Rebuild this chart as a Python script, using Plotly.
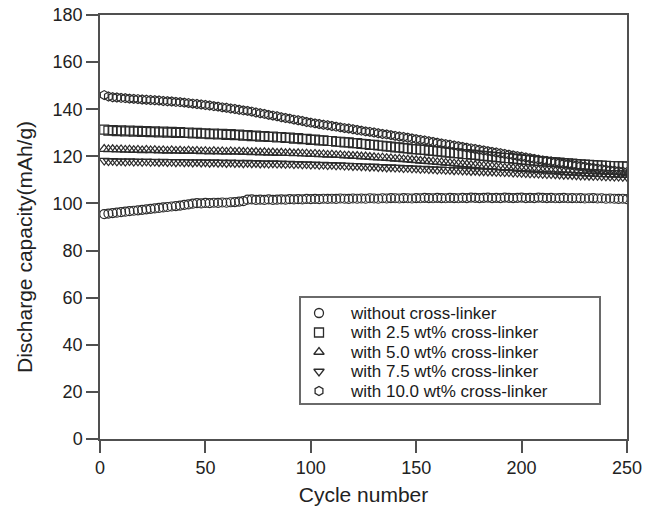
import plotly.graph_objects as go

cycles = list(range(2, 251, 2))  # 125 cycles: 2, 4, ..., 250

without_xl = [
    95.5, 95.7, 95.9, 96.1, 96.3, 96.5, 96.7, 96.9, 97.1, 97.3,
    97.5, 97.7, 97.9, 98.1, 98.3, 98.5, 98.7, 98.9, 99.1, 99.4,
    99.6, 99.9, 100.1, 100.0, 100.2, 100.1, 100.3, 100.2, 100.4, 100.3,
    100.5, 100.6, 100.8, 101.0, 101.6, 101.7, 101.5, 101.6, 101.5, 101.7,
    101.5, 101.6, 101.7, 101.6, 101.8, 101.7, 101.8, 101.7, 101.9, 101.8,
    101.9, 101.8, 102.0, 101.9, 102.0, 101.9, 102.1, 102.0, 101.9, 102.1,
    102.0, 102.1, 102.0, 102.2, 102.1, 102.0, 102.2, 102.1, 102.3, 102.2,
    102.1, 102.3, 102.2, 102.1, 102.3, 102.2, 102.4, 102.3, 102.2, 102.4,
    102.3, 102.2, 102.4, 102.3, 102.2, 102.4, 102.3, 102.5, 102.4, 102.3,
    102.4, 102.5, 102.3, 102.4, 102.3, 102.5, 102.4, 102.3, 102.4, 102.5,
    102.3, 102.4, 102.3, 102.5, 102.4, 102.3, 102.4, 102.2, 102.3, 102.4,
    102.2, 102.3, 102.2, 102.3, 102.1, 102.2, 102.3, 102.1, 102.2, 102.0,
    102.1, 102.0, 101.9, 102.0, 101.8]

xl_2_5 = [
    131.3, 130.9, 131.1, 130.7, 131.0, 130.6, 130.9, 130.5, 130.8, 130.4,
    130.7, 130.3, 130.6, 130.2, 130.5, 130.1, 130.4, 130.0, 130.3, 129.9,
    130.1, 129.7, 130.0, 129.6, 129.8, 129.4, 129.7, 129.3, 129.5, 129.1,
    129.4, 129.0, 129.2, 128.8, 129.0, 128.6, 128.8, 128.4, 128.6, 128.2,
    128.4, 128.0, 128.2, 127.8, 127.9, 127.5, 127.7, 127.3, 127.4, 127.0,
    127.1, 126.8, 126.8, 126.5, 126.5, 126.2, 126.2, 125.9, 125.9, 125.6,
    125.6, 125.3, 125.2, 124.9, 124.9, 124.6, 124.5, 124.2, 124.1, 123.8,
    123.8, 123.5, 123.4, 123.1, 123.0, 122.8, 122.7, 122.4, 122.3, 122.1,
    122.0, 121.7, 121.6, 121.4, 121.3, 121.0, 120.9, 120.7, 120.6, 120.3,
    120.2, 120.0, 119.9, 119.7, 119.5, 119.3, 119.2, 119.0, 118.8, 118.6,
    118.5, 118.3, 118.2, 118.0, 117.9, 117.7, 117.6, 117.4, 117.3, 117.1,
    117.0, 116.9, 116.7, 116.6, 116.5, 116.4, 116.3, 116.2, 116.1, 116.0,
    115.9, 115.8, 115.8, 115.7, 115.6]

xl_5_0 = [
    123.1, 122.9, 123.0, 122.8, 122.9, 122.7, 122.8, 122.6, 122.7, 122.5,
    122.7, 122.5, 122.6, 122.4, 122.5, 122.3, 122.5, 122.3, 122.4, 122.2,
    122.4, 122.2, 122.3, 122.1, 122.2, 122.0, 122.2, 122.0, 122.1, 121.9,
    122.1, 121.9, 122.0, 121.8, 121.9, 121.7, 121.8, 121.6, 121.7, 121.5,
    121.6, 121.4, 121.5, 121.3, 121.4, 121.2, 121.3, 121.1, 121.1, 120.9,
    121.0, 120.8, 120.8, 120.6, 120.7, 120.5, 120.5, 120.3, 120.3, 120.1,
    120.1, 119.9, 119.9, 119.7, 119.6, 119.4, 119.4, 119.2, 119.1, 118.9,
    118.9, 118.7, 118.6, 118.4, 118.3, 118.1, 118.0, 117.8, 117.7, 117.5,
    117.4, 117.2, 117.1, 116.9, 116.8, 116.6, 116.5, 116.3, 116.2, 116.0,
    115.9, 115.7, 115.6, 115.4, 115.3, 115.1, 115.0, 114.9, 114.7, 114.6,
    114.5, 114.3, 114.2, 114.1, 113.9, 113.8, 113.7, 113.6, 113.4, 113.3,
    113.2, 113.1, 113.0, 112.9, 112.8, 112.7, 112.6, 112.5, 112.4, 112.3,
    112.3, 112.2, 112.1, 112.1, 112.0]

xl_7_5 = [
    118.2, 118.0, 118.1, 117.9, 118.0, 117.8, 118.0, 117.8, 117.9, 117.7,
    117.9, 117.7, 117.8, 117.6, 117.8, 117.6, 117.7, 117.5, 117.7, 117.5,
    117.6, 117.4, 117.6, 117.4, 117.5, 117.3, 117.5, 117.3, 117.4, 117.2,
    117.4, 117.2, 117.3, 117.1, 117.3, 117.1, 117.2, 117.0, 117.1, 116.9,
    117.1, 116.9, 117.0, 116.8, 116.9, 116.7, 116.8, 116.6, 116.7, 116.5,
    116.6, 116.4, 116.5, 116.3, 116.4, 116.2, 116.3, 116.1, 116.1, 115.9,
    116.0, 115.8, 115.8, 115.6, 115.7, 115.5, 115.5, 115.3, 115.4, 115.2,
    115.2, 115.0, 115.1, 114.9, 114.9, 114.7, 114.8, 114.6, 114.6, 114.4,
    114.5, 114.3, 114.3, 114.1, 114.2, 114.0, 114.0, 113.8, 113.9, 113.7,
    113.7, 113.6, 113.6, 113.4, 113.4, 113.3, 113.3, 113.1, 113.1, 113.0,
    112.9, 112.8, 112.8, 112.7, 112.6, 112.5, 112.5, 112.4, 112.3, 112.2,
    112.2, 112.1, 112.0, 111.9, 111.9, 111.8, 111.7, 111.7, 111.6, 111.5,
    111.5, 111.4, 111.4, 111.3, 111.3]

xl_10_0 = [
    146.0, 145.4, 145.1, 145.0, 144.8, 144.7, 144.5, 144.4, 144.3, 144.1,
    144.0, 143.9, 143.8, 143.7, 143.5, 143.4, 143.3, 143.1, 143.0, 142.8,
    142.6, 142.4, 142.2, 142.0, 141.8, 141.6, 141.3, 141.1, 140.8, 140.6,
    140.3, 140.1, 139.8, 139.5, 139.3, 139.0, 138.6, 138.3, 138.0, 137.6,
    137.3, 137.0, 136.6, 136.3, 136.0, 135.6, 135.3, 135.0, 134.6, 134.3,
    134.0, 133.7, 133.4, 133.2, 132.9, 132.6, 132.3, 132.0, 131.8, 131.5,
    131.2, 130.9, 130.6, 130.4, 130.1, 129.8, 129.5, 129.3, 129.0, 128.7,
    128.4, 128.2, 127.9, 127.6, 127.3, 127.0, 126.7, 126.4, 126.1, 125.8,
    125.5, 125.2, 124.9, 124.6, 124.3, 124.0, 123.7, 123.4, 123.1, 122.8,
    122.5, 122.2, 121.9, 121.6, 121.3, 121.0, 120.7, 120.4, 120.1, 119.8,
    119.5, 119.2, 118.9, 118.6, 118.3, 118.0, 117.8, 117.5, 117.2, 116.9,
    116.7, 116.4, 116.1, 115.9, 115.6, 115.3, 115.1, 114.8, 114.6, 114.3,
    114.1, 113.9, 113.7, 113.5, 113.3]

names = ["without cross-linker", "with 2.5 wt% cross-linker",
         "with 5.0 wt% cross-linker", "with 7.5 wt% cross-linker",
         "with 10.0 wt% cross-linker"]
series = [without_xl, xl_2_5, xl_5_0, xl_7_5, xl_10_0]
symbols = ["circle-open", "square-open", "triangle-up-open",
           "triangle-down-open", "hexagon-open"]

MARK = "#2b2b2b"
AXC = "#505050"
font = "Liberation Sans, Arial, sans-serif"

fig = go.Figure()
for name, ys, sym in zip(names, series, symbols):
    assert len(ys) == len(cycles), (name, len(ys))
    fig.add_trace(go.Scatter(
        x=cycles, y=ys, mode="markers", name=name, showlegend=False,
        marker=dict(symbol=sym, size=9, color=MARK,
                    line=dict(width=1.2, color=MARK)),
    ))

# ---- hand-built legend (box, symbols on an overlay axis, text annotations)
plot_w, plot_h = 527.0, 424.0
box_l, box_r, box_t, box_b = 200, 500, 142, 35      # px from plot origin
sym_x, txt_x, row0, row_step = 219, 248, 126, 19.5   # px from plot origin

fig.add_shape(type="rect", xref="paper", yref="paper",
              x0=box_l / plot_w, x1=box_r / plot_w,
              y0=box_b / plot_h, y1=box_t / plot_h,
              line=dict(color="#6a6a6a", width=2), fillcolor="white",
              layer="below")
for i, (name, sym) in enumerate(zip(names, symbols)):
    yy = (row0 - i * row_step) / plot_h
    fig.add_trace(go.Scatter(
        x=[sym_x / plot_w], y=[yy], xaxis="x2", yaxis="y2", mode="markers",
        showlegend=False, hoverinfo="skip",
        marker=dict(symbol=sym, size=9, color=MARK, line=dict(width=1.3, color=MARK)),
    ))
    fig.add_annotation(x=txt_x / plot_w, y=yy, xref="paper", yref="paper",
                       text=name, showarrow=False, xanchor="left",
                       yanchor="middle", font=dict(size=17, color="#1a1a1a"))

# y-axis title (placed as annotation to match its vertical position)
fig.add_annotation(x=0, y=(438 - 246) / plot_h, xref="paper", yref="paper",
                   xshift=-76, text="Discharge capacity(mAh/g)", textangle=-90,
                   showarrow=False, xanchor="center", yanchor="middle",
                   font=dict(size=21, color="#222"))

fig.update_layout(
    width=653, height=511,
    margin=dict(l=100, r=26, t=15, b=72, autoexpand=False),
    paper_bgcolor="white", plot_bgcolor="white",
    font=dict(family=font, size=18, color="#222"),
    showlegend=False,
    xaxis=dict(range=[0, 250], tickvals=[0, 50, 100, 150, 200, 250],
               showline=True, linecolor=AXC, linewidth=1.5, mirror=True,
               ticks="outside", ticklen=12, tickwidth=1.5, tickcolor=AXC,
               showgrid=False, zeroline=False, tickfont=dict(size=18),
               automargin=False,
               title=dict(text="Cycle number", font=dict(size=21), standoff=10)),
    yaxis=dict(range=[0, 180], tickvals=list(range(0, 181, 20)),
               showline=True, linecolor=AXC, linewidth=1.5, mirror=True,
               ticks="outside", ticklen=12, tickwidth=1.5, tickcolor=AXC,
               showgrid=False, zeroline=False, tickfont=dict(size=18),
               automargin=False),
    xaxis2=dict(domain=[0, 1], range=[0, 1], overlaying="x", anchor="y2",
                visible=False, fixedrange=True),
    yaxis2=dict(domain=[0, 1], range=[0, 1], overlaying="y", anchor="x2",
                visible=False, fixedrange=True),
)

fig.write_html("out.html")
